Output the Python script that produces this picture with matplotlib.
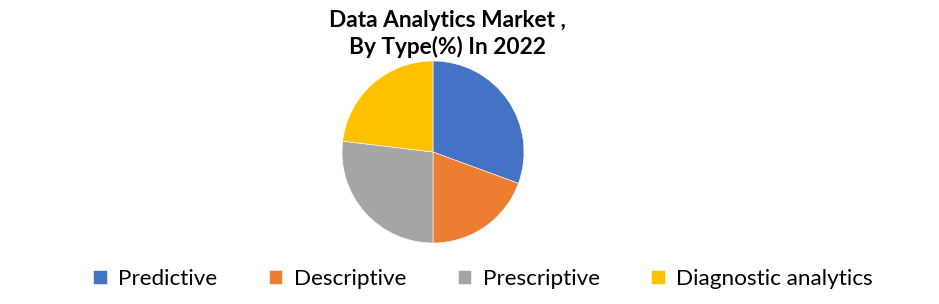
import matplotlib
matplotlib.use("Agg")
import matplotlib.pyplot as plt

categories = ["Predictive", "Descriptive", "Prescriptive", "Diagnostic analytics"]
values = [30.6, 19.4, 26.9, 23.1]
colors = ["#4472C4", "#ED7D31", "#A5A5A5", "#FFC000"]
title = "Data Analytics Market ,\nBy Type(%) In 2022"

plt.rcParams['font.family'] = ['Lato', 'DejaVu Sans']

W, H = 939, 304
fig = plt.figure(figsize=(W / 100, H / 100), dpi=100)
cx, cy, r = 433, 152, 91
ax = fig.add_axes([(cx - r) / W, (H - cy - r) / H, 2 * r / W, 2 * r / H])
wedges, _ = ax.pie(values, colors=colors, startangle=90, counterclock=False,
                   wedgeprops=dict(edgecolor="white", linewidth=0.4))
ax.set_aspect("equal")
ax.set_xlim(-1, 1)
ax.set_ylim(-1, 1)
ax.axis("off")

fig.text(447 / W, 1 - 34 / H, title, ha="center", va="center",
         fontsize=16.3, fontweight="bold", linespacing=1.3)

fig.legend(wedges, categories, loc="center", bbox_to_anchor=(483 / W, 1 - 279 / H),
           ncol=4, frameon=False, fontsize=16.2, handlelength=0.6, handleheight=0.6,
           handletextpad=0.5, columnspacing=2.3, borderpad=0)

fig.savefig("out.png", dpi=100)
